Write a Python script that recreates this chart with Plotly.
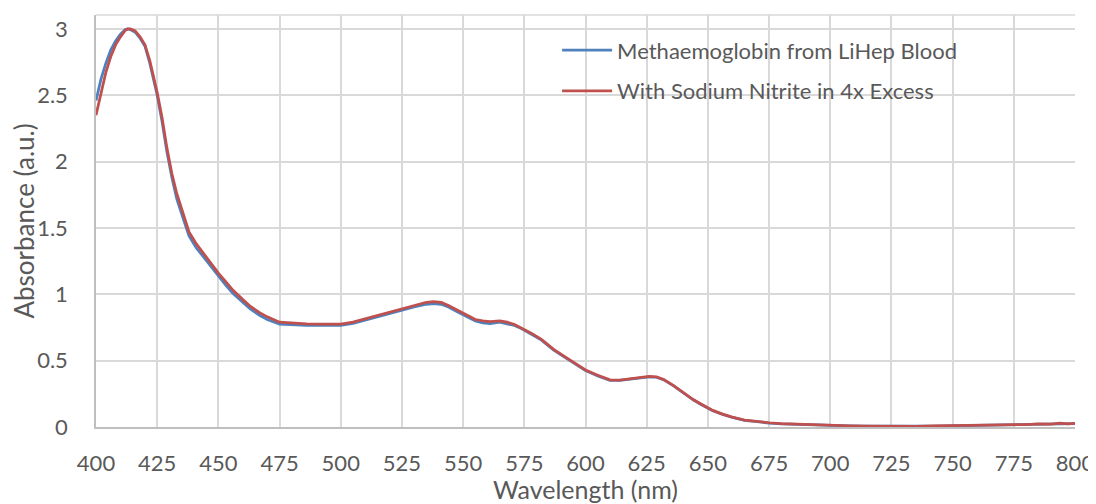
import plotly.graph_objects as go

wavelength = [400, 402, 404, 406, 408, 410, 412, 413, 414, 416, 418, 420, 422, 425, 427, 429,
              431, 433, 436, 438, 441, 444, 447, 450, 453, 456, 460, 463, 467, 470, 475, 480,
              486, 492, 500, 505, 510, 515, 520, 525, 530, 535, 538, 541, 544, 548, 551, 555,
              558, 561, 565, 568, 571, 574, 578, 582, 587, 592, 596, 600, 605, 610, 614, 618,
              622, 626, 629, 632, 636, 640, 644, 647, 652, 656, 660, 665, 670, 675, 680, 688,
              695, 701, 708, 715, 722, 728, 735, 742, 748, 755, 762, 769, 775, 780, 785, 790,
              794, 797, 800]

methaemoglobin = [2.46, 2.62, 2.74, 2.84, 2.91, 2.96, 2.995, 3.0, 2.995, 2.975, 2.93, 2.87, 2.74, 2.50, 2.30, 2.07,
                  1.88, 1.72, 1.55, 1.44, 1.35, 1.28, 1.205, 1.135, 1.07, 1.005, 0.935, 0.89, 0.84, 0.81, 0.775, 0.77,
                  0.765, 0.765, 0.765, 0.78, 0.805, 0.83, 0.86, 0.88, 0.905, 0.925, 0.93, 0.925, 0.905, 0.865, 0.835, 0.80,
                  0.785, 0.78, 0.79, 0.78, 0.765, 0.74, 0.70, 0.655, 0.58, 0.52, 0.47, 0.425, 0.385, 0.352, 0.352, 0.36,
                  0.37, 0.378, 0.375, 0.355, 0.31, 0.255, 0.205, 0.172, 0.122, 0.095, 0.072, 0.05, 0.038, 0.03, 0.024, 0.018,
                  0.014, 0.01, 0.008, 0.006, 0.005, 0.006, 0.004, 0.007, 0.008, 0.01, 0.012, 0.015, 0.018, 0.017, 0.022, 0.02,
                  0.026, 0.022, 0.025]

sodium_nitrite = [2.35, 2.52, 2.67, 2.79, 2.88, 2.94, 2.99, 3.0, 3.0, 2.985, 2.94, 2.88, 2.76, 2.52, 2.33, 2.10,
                  1.91, 1.76, 1.58, 1.47, 1.38, 1.305, 1.23, 1.16, 1.095, 1.03, 0.96, 0.91, 0.86, 0.83, 0.79, 0.782,
                  0.778, 0.775, 0.775, 0.79, 0.815, 0.845, 0.87, 0.895, 0.92, 0.94, 0.945, 0.94, 0.915, 0.875, 0.845, 0.81,
                  0.80, 0.795, 0.80, 0.79, 0.772, 0.745, 0.705, 0.66, 0.585, 0.525, 0.475, 0.43, 0.39, 0.355, 0.354, 0.362,
                  0.372, 0.382, 0.378, 0.358, 0.312, 0.258, 0.207, 0.175, 0.125, 0.097, 0.074, 0.052, 0.04, 0.032, 0.026, 0.02,
                  0.015, 0.011, 0.009, 0.007, 0.006, 0.008, 0.005, 0.009, 0.01, 0.012, 0.014, 0.017, 0.02, 0.018, 0.024, 0.021,
                  0.03, 0.024, 0.027]

x_ticks = [400, 425, 450, 475, 500, 525, 550, 575, 600, 625, 650, 675, 700, 725, 750, 775, 800]
y_ticks = [0, 0.5, 1, 1.5, 2, 2.5, 3]
y_tick_labels = ["0", "0.5", "1", "1.5", "2", "2.5", "3"]

FONT = "Lato, 'Open Sans', sans-serif"
TXT = "#595959"
GRID = "#d9d9d9"

fig = go.Figure()
fig.add_trace(go.Scatter(x=wavelength, y=methaemoglobin, mode="lines",
                         name="Methaemoglobin from LiHep Blood", legendgroup="a",
                         line=dict(color="#4f81bd", width=2.75)))
fig.add_trace(go.Scatter(x=wavelength, y=sodium_nitrite, mode="lines",
                         name="With Sodium Nitrite in 4x Excess", legendgroup="b",
                         line=dict(color="#c0504d", width=2.75)))

# the page body has an 8px margin, so the figure is 16px smaller than the window
fig.update_layout(
    width=1088, height=496,
    margin=dict(l=88, r=21, t=7, b=77),
    paper_bgcolor="white", plot_bgcolor="white",
    font=dict(family=FONT, size=22, color=TXT),
    showlegend=True,
    legend=dict(x=0.471, y=0.965, xanchor="left", yanchor="top",
                bgcolor="rgba(0,0,0,0)", font=dict(size=22, color=TXT),
                tracegroupgap=9, itemwidth=50),
    xaxis=dict(range=[400, 800], tickvals=x_ticks, showgrid=True, gridcolor=GRID, gridwidth=1.5,
               zeroline=False, showline=True, linecolor="#bfbfbf", linewidth=1.5, mirror=False,
               ticks="", ticklabelstandoff=16, automargin=False, tickfont=dict(size=22),
               title=dict(text="Wavelength (nm)", standoff=3, font=dict(size=25, color=TXT))),
    yaxis=dict(range=[0, 3.105], tickvals=y_ticks, ticktext=y_tick_labels, showgrid=True,
               gridcolor=GRID, gridwidth=1.5, zeroline=False, showline=True, linecolor="#bfbfbf",
               linewidth=1.5, ticks="", ticklabelstandoff=22, automargin=False, tickfont=dict(size=22),
               title=dict(text="Absorbance (a.u.)", standoff=4, font=dict(size=26, color=TXT))),
)
fig.add_shape(type="line", xref="paper", yref="paper", x0=0, x1=1, y0=1, y1=1,
              line=dict(color=GRID, width=1.5), layer="below")

fig.write_html("out.html")
